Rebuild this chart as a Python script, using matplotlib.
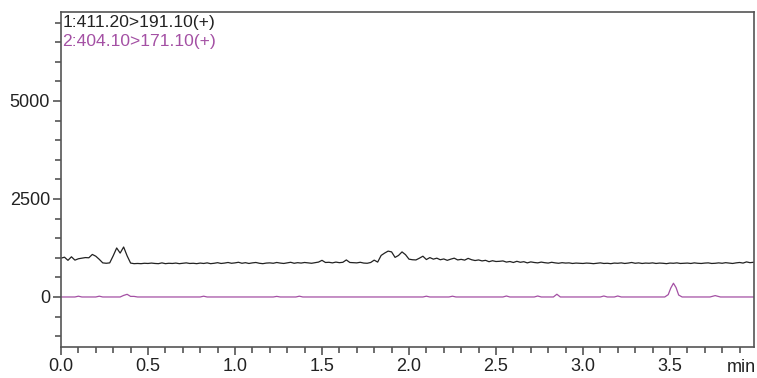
import numpy as np
import matplotlib.pyplot as plt
from matplotlib.ticker import MultipleLocator

# 色谱图数据 (min, 强度)
time = np.linspace(0, 4.0, 201)
trace1 = [
    990, 1015, 935, 1025, 940, 975, 990, 1005, 1000, 1085,
    1040, 960, 870, 860, 870, 1050, 1250, 1120, 1275, 1050,
    865, 850, 855, 850, 860, 855, 865, 855, 850, 870,
    850, 860, 855, 865, 850, 860, 870, 855, 860, 850,
    865, 855, 870, 850, 860, 875, 855, 865, 880, 860,
    870, 885, 860, 875, 855, 870, 880, 860, 850, 865,
    870, 860, 880, 865, 855, 870, 885, 860, 875, 865,
    880, 870, 860, 875, 890, 935, 880, 885, 870, 890,
    875, 885, 945, 880, 875, 870, 885, 865, 860, 880,
    940, 890, 1060, 1120, 1170, 1150, 1010, 1060, 1150, 1080,
    965, 950, 945, 990, 1040, 955, 1005, 965, 990, 950,
    970, 935, 965, 990, 945, 960, 940, 985, 950, 930,
    945, 920, 935, 900, 925, 905, 910, 920, 890, 905,
    880, 910, 885, 900, 870, 895, 880, 870, 890, 875,
    865, 885, 870, 860, 875, 865, 870, 855, 865, 860,
    855, 865, 860, 850, 860, 870, 855, 860, 850, 865,
    860, 870, 855, 865, 880, 860, 870, 855, 865, 860,
    870, 855, 865, 860, 850, 865, 860, 870, 855, 860,
    865, 855, 870, 860, 855, 865, 870, 855, 860, 870,
    860, 875, 865, 855, 870, 880, 865, 895, 875, 885,
    880,
]

time2 = [0, 0.08, 0.10, 0.12, 0.20, 0.22, 0.24, 0.34, 0.36, 0.38, 0.40,
         0.42, 0.44, 0.46, 0.80, 0.82, 0.84, 1.22, 1.24, 1.26, 1.35, 1.37,
         1.39, 2.08, 2.10, 2.12, 2.23, 2.25, 2.27, 2.54, 2.56, 2.58, 2.72,
         2.74, 2.76, 2.83, 2.85, 2.87, 3.10, 3.12, 3.14, 3.18, 3.20, 3.22,
         3.47, 3.49, 3.505, 3.52, 3.535, 3.55, 3.57, 3.73, 3.76, 3.79, 4.0]
trace2 = [0, 0, 20, 0, 0, 20, 0, 0, 40, 68, 15,
          15, 0, 0, 0, 20, 0, 0, 15, 0, 0, 20,
          0, 0, 20, 0, 0, 20, 0, 0, 25, 0, 0,
          25, 0, 0, 70, 0, 0, 25, 0, 0, 25, 0,
          0, 60, 230, 350, 240, 50, 0, 0, 35, 0, 0]

label1 = "1:411.20>191.10(+)"
label2 = "2:404.10>171.10(+)"
black = "#222222"
purple = "#a450a4"
axcol = "#555555"

plt.rcParams['font.family'] = ['Liberation Sans', 'DejaVu Sans']

fig = plt.figure(figsize=(7.57, 3.78), dpi=100)
ax = fig.add_axes([61 / 757, 1 - 347 / 378, 693 / 757, 335 / 378])

ax.plot(time, trace1, color=black, lw=0.9)
ax.plot(time2, trace2, color=purple, lw=0.9)

ax.set_xlim(0, 3.983)
ax.set_ylim(-1276, 7270)

ax.xaxis.set_major_locator(MultipleLocator(0.5))
ax.xaxis.set_minor_locator(MultipleLocator(0.1))
ax.yaxis.set_major_locator(MultipleLocator(2500))
ax.yaxis.set_minor_locator(MultipleLocator(500))
ax.xaxis.set_major_formatter(lambda v, p: f"{v:.1f}")
ax.yaxis.set_major_formatter(lambda v, p: f"{v:.0f}")

for s in ax.spines.values():
    s.set_color(axcol)
    s.set_linewidth(1.2)
ax.tick_params(which='both', color=axcol, width=1.2, labelsize=13,
               labelcolor='#222222')
ax.tick_params(which='major', length=6, pad=2)
ax.tick_params(which='minor', length=4)

ax.text(0.002, 0.99, label1, transform=ax.transAxes, va='top', ha='left',
        color=black, fontsize=12.6)
ax.text(0.002, 0.934, label2, transform=ax.transAxes, va='top', ha='left',
        color=purple, fontsize=12.6)
fig.text(756 / 757, 1 - 367 / 378, "min", ha='right', va='center',
         color='#222222', fontsize=13)

fig.savefig("out.png", dpi=100)
